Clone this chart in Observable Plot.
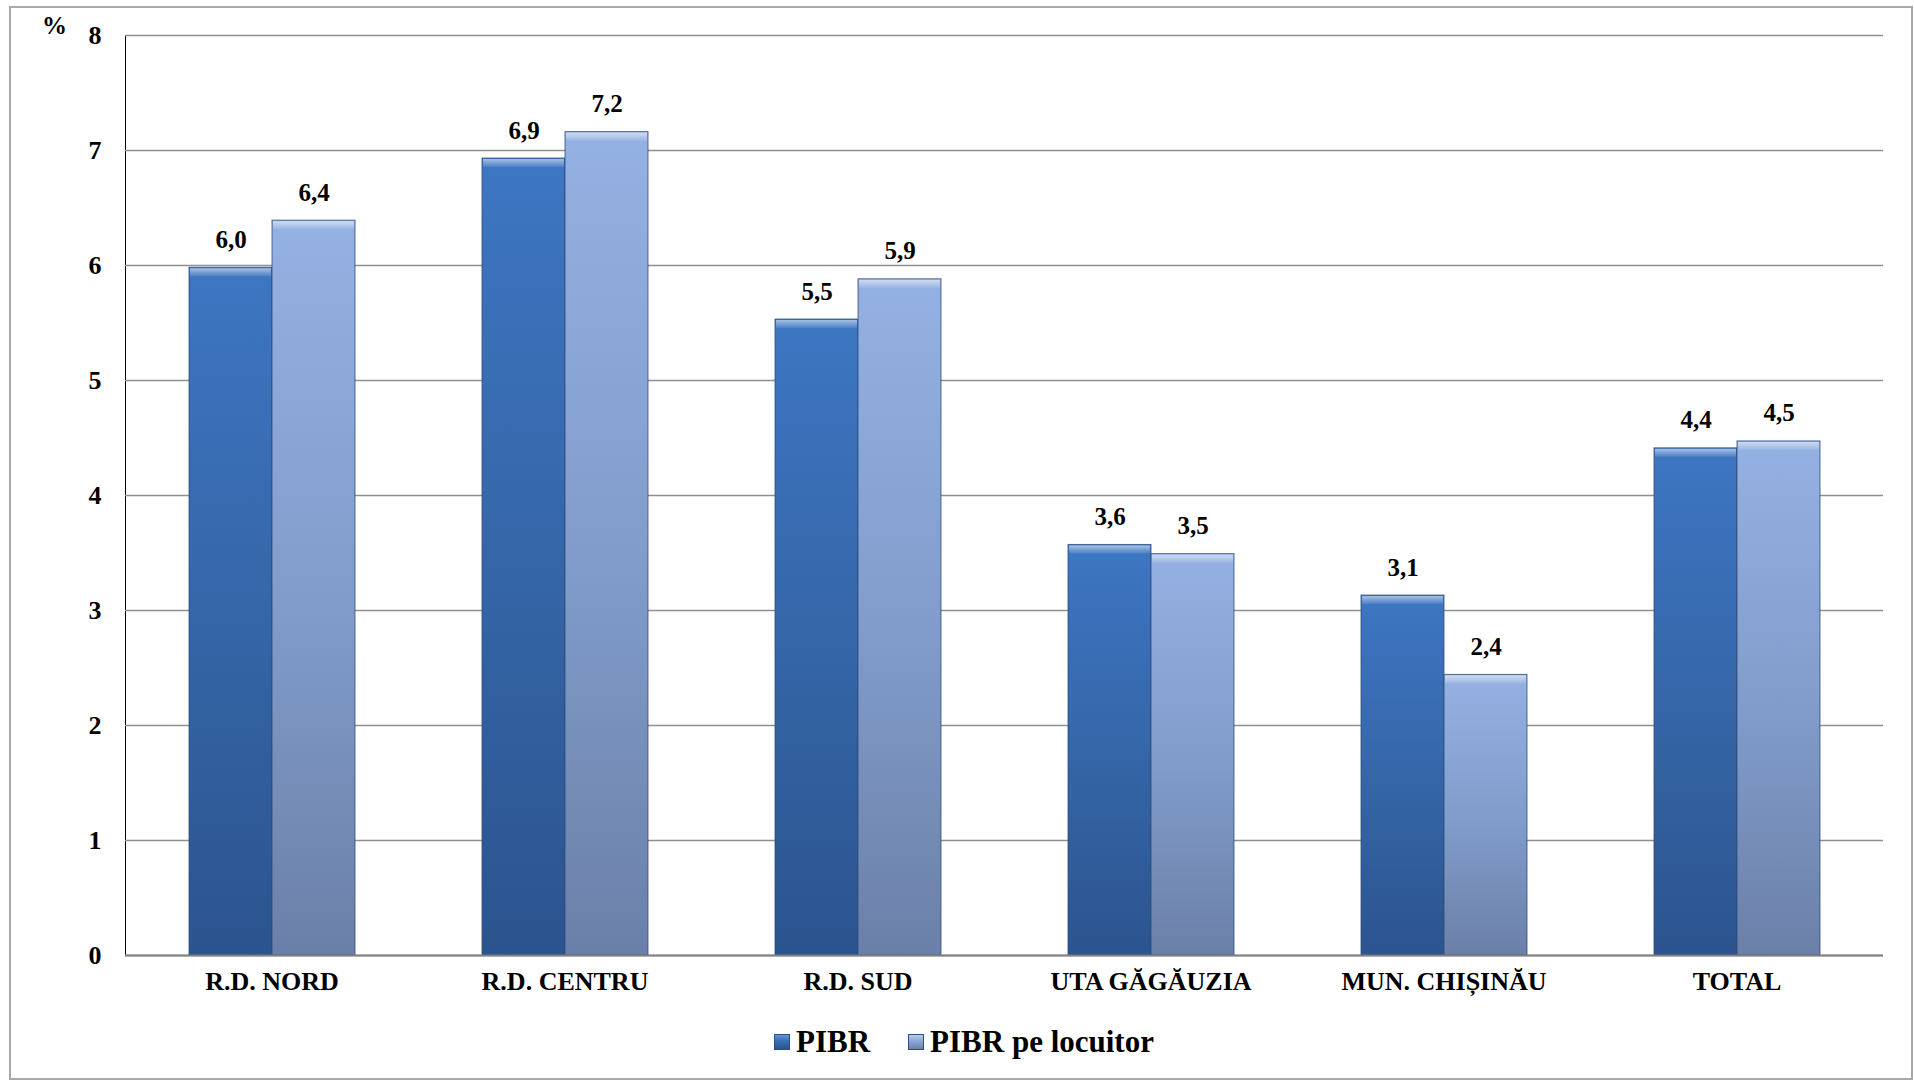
<!DOCTYPE html>
<html>
<head>
<meta charset="utf-8">
<script src="https://cdn.jsdelivr.net/npm/d3@7"></script>
<script src="https://cdn.jsdelivr.net/npm/@observablehq/plot@0.6"></script>
<style>
  html, body { margin: 0; padding: 0; background: #fff; }
  #wrap { position: relative; width: 1914px; height: 1080px; overflow: hidden; font-family: 'Liberation Serif', 'Times New Roman', serif; }
  #border { position: absolute; left: 9px; top: 6px; width: 1900px; height: 1070px; border: 2px solid #a9a9a9; }
  #chart { position: absolute; left: 0; top: 0; }
  #ylab { position: absolute; left: 42px; top: 12px; font-size: 25px; font-weight: bold; }
  #legend { position: absolute; left: 774px; top: 1024px; display: flex; align-items: center; font-size: 31px; font-weight: bold; white-space: nowrap; }
  .sw { width: 16px; height: 16px; display: inline-block; margin-right: 6px; box-sizing: border-box; border: 1px solid #2f4f80; }
  .item { display: flex; align-items: center; margin-right: 38px; }
</style>
</head>
<body>
<div id="wrap">
  <div id="border"></div>
  <div id="chart"></div>
  <div id="ylab">%</div>
  <div id="legend"></div>
</div>
<script>
const categories = ["R.D. NORD", "R.D. CENTRU", "R.D. SUD", "UTA GĂGĂUZIA", "MUN. CHIȘINĂU", "TOTAL"];
const seriesNames = ["PIBR", "PIBR pe locuitor"];
const pibr = [5.98, 6.93, 5.53, 3.57, 3.13, 4.41];
const pibrPerCapita = [6.39, 7.16, 5.88, 3.49, 2.44, 4.47];
const yTicks = [0, 1, 2, 3, 4, 5, 6, 7, 8];
const seriesFills = ["url(#gradA)", "url(#gradB)"];
const seriesSwatch = ["linear-gradient(#5f95dd, #3a70b8 40%, #2b5590)", "linear-gradient(#b4cdf2, #8eaadb 40%, #6b80a8)"];

const rows = categories.flatMap((c, i) => [
  {cat: c, series: seriesNames[0], value: pibr[i]},
  {cat: c, series: seriesNames[1], value: pibrPerCapita[i]}
]);
const fmt = v => d3.format(".1f")(v).replace(".", ",");

const svg = Plot.plot({
  width: 1914,
  height: 1010,
  marginLeft: 122,
  marginRight: 29,
  marginTop: 35,
  marginBottom: 55,
  style: {fontFamily: "'Liberation Serif', 'Times New Roman', serif", fontSize: "25px", fontWeight: "bold", color: "#000", background: "transparent", overflow: "visible"},
  fx: {domain: categories, padding: 0, label: null, tickSize: 0, tickPadding: 16, axis: "bottom"},
  x: {domain: seriesNames, paddingInner: 0, paddingOuter: 0.75, axis: null},
  y: {domain: [0, 8], ticks: yTicks, line: true, tickSize: 0, tickPadding: 24, label: null, tickFormat: d => String(d)},
  marks: [
    Plot.gridY(yTicks, {stroke: "#8f8f8f", strokeOpacity: 1, strokeWidth: 1.3}),
    ...seriesNames.map((s, j) => Plot.barY(rows.filter(r => r.series === s), {
      fx: "cat", x: "series", y: "value", fill: seriesFills[j], stroke: "#2e4c7a", strokeWidth: 1, strokeOpacity: 0.8
    })),
    Plot.barY(rows, {fx: "cat", x: "series", y1: "value", y2: "value", insetBottom: -9, insetTop: 1, insetLeft: 1, insetRight: 1, fill: "url(#bevel)"}),
    Plot.ruleY([0], {stroke: "#808080", strokeWidth: 2}),
    Plot.text(rows, {fx: "cat", x: "series", y: "value", text: d => fmt(d.value), lineAnchor: "bottom", dy: -20, fontSize: 25, fontWeight: "bold", fill: "#000"})
  ]
});

svg.querySelectorAll('[aria-label^="fx-axis"] text').forEach(t => t.setAttribute("font-size", 26));
svg.querySelectorAll('[aria-label^="y-axis"] text').forEach(t => t.setAttribute("font-size", 26));

const ns = "http://www.w3.org/2000/svg";
const defs = document.createElementNS(ns, "defs");
defs.innerHTML = `
<linearGradient id="gradA" x1="0" y1="0" x2="0" y2="1">
  <stop offset="0" stop-color="#3d76c2"/>
  <stop offset="0.5" stop-color="#3566a8"/>
  <stop offset="1" stop-color="#2b548e"/>
</linearGradient>
<linearGradient id="gradB" x1="0" y1="0" x2="0" y2="1">
  <stop offset="0" stop-color="#93b1e2"/>
  <stop offset="0.5" stop-color="#829dcc"/>
  <stop offset="1" stop-color="#6b80a8"/>
</linearGradient>
<linearGradient id="bevel" x1="0" y1="0" x2="0" y2="1">
  <stop offset="0" stop-color="#ffffff" stop-opacity="0.55"/>
  <stop offset="0.5" stop-color="#ffffff" stop-opacity="0.3"/>
  <stop offset="1" stop-color="#ffffff" stop-opacity="0.08"/>
</linearGradient>`;
svg.prepend(defs);
document.getElementById("chart").appendChild(svg);

const legend = document.getElementById("legend");
seriesNames.forEach((s, j) => {
  const item = document.createElement("div");
  item.className = "item";
  const sw = document.createElement("span");
  sw.className = "sw";
  sw.style.background = seriesSwatch[j];
  const t = document.createElement("span");
  t.textContent = s;
  item.appendChild(sw);
  item.appendChild(t);
  legend.appendChild(item);
});
</script>
</body>
</html>
